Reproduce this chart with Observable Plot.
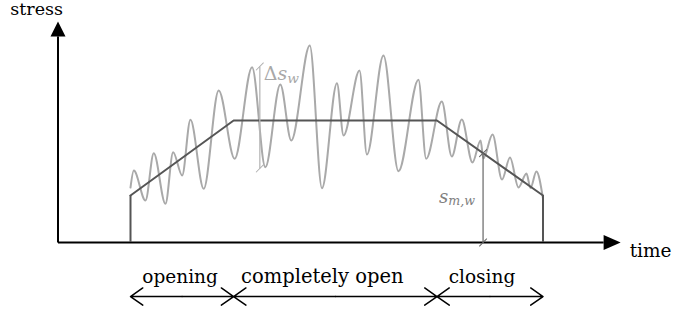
<!DOCTYPE html>
<html><head><meta charset="utf-8">
<script src="https://cdn.jsdelivr.net/npm/d3@7"></script>
<script src="https://cdn.jsdelivr.net/npm/@observablehq/plot@0.6"></script>
<style>body{margin:0;background:#fff} svg text{font-family:"DejaVu Serif","Liberation Serif",serif !important}</style>
</head><body><div id="chart"></div>
<script>
// mean stress (trapezoid): time vs. stress
const meanT = [0, 25, 74.3, 100];
const meanS = [38.5, 100, 100, 38.5];
// oscillating stress: successive extremes (time, stress)
const sigT = [0, 0.8, 3.63, 5.64, 8.47, 10.34, 12.52, 14.53, 17.75, 21.38, 25.25, 29.47, 32.69, 36.32, 38.98, 43.46, 46.42, 50.05, 51.65, 55.52, 57.31, 61.33, 64.96, 69.81, 71.67, 75.47, 77.89, 80.31, 82.9, 84.87, 85.54, 87.77, 90.06, 92.0, 94.06, 96.0, 96.97, 98.4, 100];
const sigS = [45, 59.0, 34.4, 73.2, 31.7, 74.0, 54.9, 100.6, 44.0, 124.6, 68.6, 143.7, 61.7, 129.5, 83.6, 161.5, 44.5, 130.6, 87.7, 141.0, 72.1, 153.3, 58.4, 133.4, 68.6, 115.6, 70.5, 100.8, 65.6, 83.6, 68.9, 88.5, 51.6, 69.7, 45.1, 56.6, 44.7, 58.2, 36];
// phases
const phases = ["opening", "completely open", "closing"];
const phaseBounds = [0, 25, 74.3, 100];
// axis labels
const axisLabels = ["stress", "time"];
// annotations
const deltaT = 31.35, deltaLow = 60.7, deltaHigh = 144.3;
const meanMarkT = 85.47;

// layout constants (data units)
const tMin = -17.58, tArrowBase = 114.7, sArrowBase = 168.9;
const phaseArrowS = -44.3, phaseLabelS = -32.8;
const FONT = "DejaVu Serif";

const meanAt = t => {
  for (let i = 0; i < meanT.length - 1; i++) {
    if (t >= meanT[i] && t <= meanT[i + 1]) {
      const f = (t - meanT[i]) / (meanT[i + 1] - meanT[i]);
      return meanS[i] + f * (meanS[i + 1] - meanS[i]);
    }
  }
  return 0;
};

const signal = sigT.map((t, i) => ({t, s: sigS[i]}));
const mean = meanT.map((t, i) => ({t, s: meanS[i]}));
const stems = [mean[0], mean[mean.length - 1]];
const axes = [
  {x1: tMin, y1: 0, x2: tArrowBase, y2: 0},
  {x1: tMin, y1: 0, x2: tMin, y2: sArrowBase}
];
const phaseArrows = [];
phases.forEach((p, i) => {
  const a = phaseBounds[i], b = phaseBounds[i + 1], m = (a + b) / 2;
  phaseArrows.push({x1: m, x2: a}, {x1: m, x2: b});
});
const phaseDx = [-2, -13, -8];
const sm = meanAt(meanMarkT);
const deltaLine = [{x1: deltaT, y1: deltaLow, x2: deltaT, y2: deltaHigh}];
const meanLine = [{x1: meanMarkT, y1: 0, x2: meanMarkT, y2: sm}];

const slash = (data, color) => Plot.vector(data, {
  x: "t", y: "s", length: 10, rotate: 45, anchor: "middle", shape: "spike", r: 0,
  stroke: color, fill: "none", strokeWidth: 1
});

const chart = Plot.plot({
  width: 674, height: 313, margin: 0,
  x: {domain: [0, 100], range: [130, 542.5], axis: null},
  y: {domain: [0, 100], range: [242, 120], axis: null},
  style: {fontFamily: FONT, background: "white", overflow: "visible"},
  marks: [
    // axes
    Plot.link(axes, {x1: "x1", y1: "y1", x2: "x2", y2: "y2", stroke: "black", strokeWidth: 2}),
    Plot.vector([{t: tArrowBase, s: 0}], {x: "t", y: "s", length: 17, rotate: 90, anchor: "start", shape: "spike", r: 7.5, fill: "black", stroke: "none"}),
    Plot.vector([{t: tMin, s: sArrowBase}], {x: "t", y: "s", length: 15, rotate: 0, anchor: "start", shape: "spike", r: 7.5, fill: "black", stroke: "none"}),
    Plot.text([axisLabels[0]], {x: tMin, y: sArrowBase, text: d => d, textAnchor: "end", lineAnchor: "bottom", dx: 5, dy: -21, fontSize: 17.5, fontFamily: FONT, fill: "black"}),
    Plot.text([axisLabels[1]], {x: tArrowBase, y: 0, text: d => d, textAnchor: "start", lineAnchor: "bottom", dx: 26, dy: 14, fontSize: 18.5, fontFamily: FONT, fill: "black"}),
    // oscillating signal
    Plot.line(signal, {x: "t", y: "s", curve: "monotone-x", stroke: "#a9a9a9", strokeWidth: 2}),
    // mean stress
    Plot.line(mean, {x: "t", y: "s", stroke: "#555", strokeWidth: 2}),
    Plot.ruleX(stems, {x: "t", y1: () => 0, y2: "s", stroke: "#555", strokeWidth: 2}),
    // Δs_w annotation
    Plot.link(deltaLine, {x1: "x1", y1: "y1", x2: "x2", y2: "y2", stroke: "#b8b8b8", strokeWidth: 1.3}),
    slash([{t: deltaT, s: deltaLow}, {t: deltaT, s: deltaHigh}], "#b0b0b0"),
    Plot.text(["Δsw"], {x: deltaT, y: deltaHigh, text: d => d, textAnchor: "start", lineAnchor: "bottom", dx: 4, dy: 14, fontSize: 19, fontFamily: FONT, fill: "#a8a8a8"}),
    // s_m,w annotation
    Plot.link(meanLine, {x1: "x1", y1: "y1", x2: "x2", y2: "y2", stroke: "#666", strokeWidth: 1.2}),
    slash([{t: meanMarkT, s: 0}, {t: meanMarkT, s: sm}], "#666"),
    Plot.text(["sm,w"], {x: meanMarkT, y: 0, text: d => d, textAnchor: "end", lineAnchor: "bottom", dx: -8, dy: -40, fontSize: 18, fontFamily: FONT, fill: "#808080"}),
    // phases
    Plot.arrow(phaseArrows, {x1: "x1", y1: () => phaseArrowS, x2: "x2", y2: () => phaseArrowS, stroke: "black", strokeWidth: 1.5, headLength: 15, headAngle: 70}),
    ...phases.map((p, i) => Plot.text([p], {
      x: (phaseBounds[i] + phaseBounds[i + 1]) / 2, y: phaseLabelS, text: d => d,
      textAnchor: "middle", lineAnchor: "bottom", dx: phaseDx[i], fontSize: i === 1 ? 19.5 : 18.5, fontFamily: FONT, fill: "black"
    }))
  ]
});

// math-style subscripts
d3.select(chart).selectAll("text").each(function() {
  const el = d3.select(this);
  const txt = this.textContent;
  if (txt === "Δsw") {
    el.text(null);
    el.append("tspan").text("Δ");
    el.append("tspan").attr("font-style", "italic").text("s");
    el.append("tspan").attr("font-style", "italic").attr("font-size", "0.72em").attr("dy", "0.22em").text("w");
  } else if (txt === "sm,w") {
    el.text(null);
    el.append("tspan").attr("font-style", "italic").text("s");
    el.append("tspan").attr("font-style", "italic").attr("font-size", "0.7em").attr("dy", "0.2em").text("m,w");
  }
});

document.getElementById("chart").appendChild(chart);
</script>
</body></html>
